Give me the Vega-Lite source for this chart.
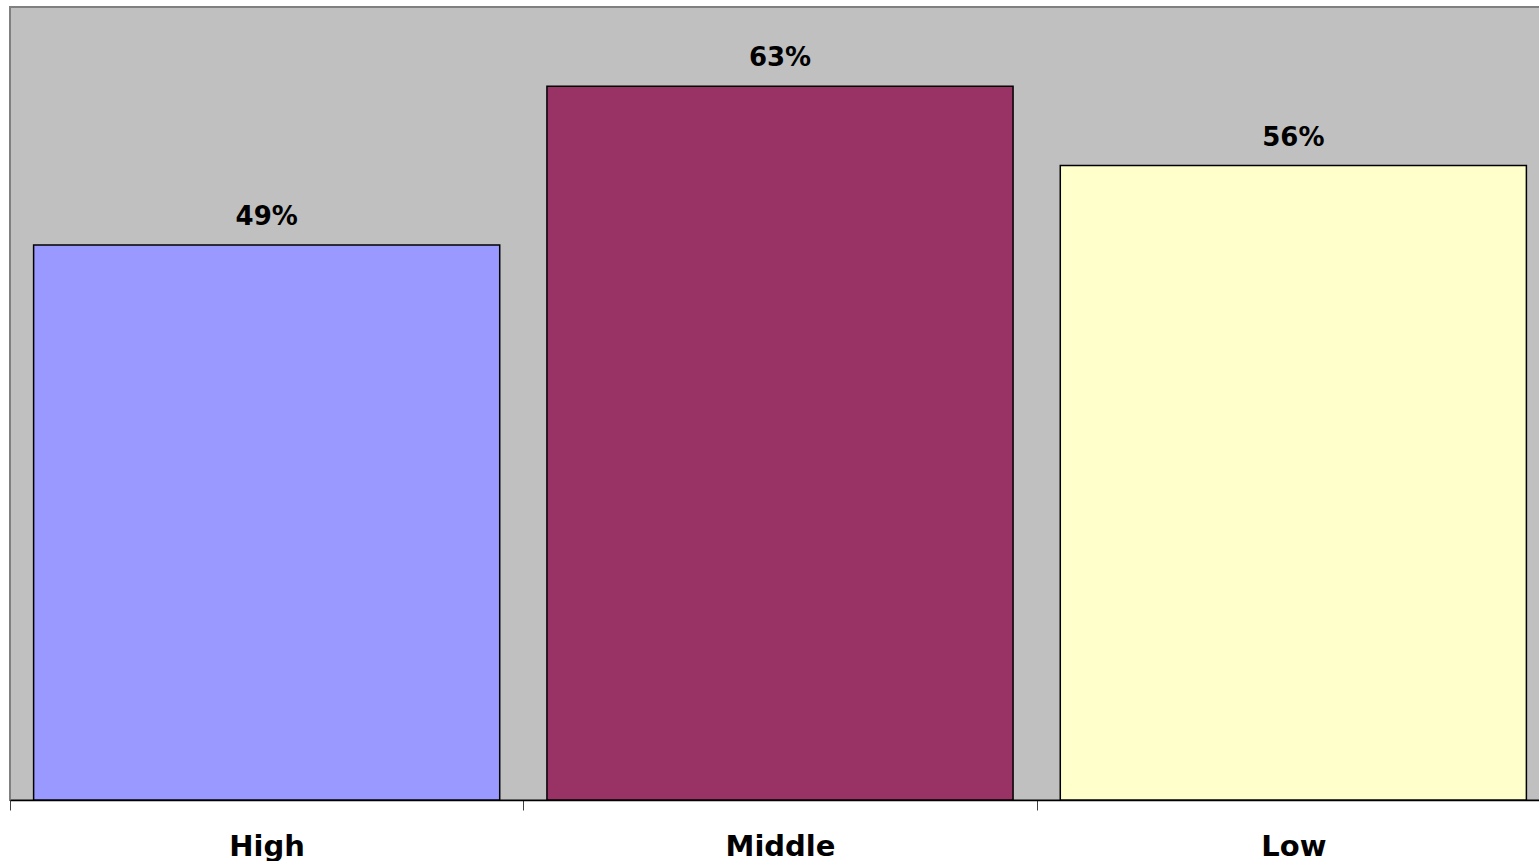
{
  "$schema": "https://vega.github.io/schema/vega-lite/v6.json",
  "width": 1540,
  "height": 793,
  "padding": {"left": 9, "top": 7, "right": 0, "bottom": 0},
  "background": "#ffffff",
  "config": {
    "view": {"fill": "#C0C0C0", "stroke": "#808080", "strokeWidth": 2},
    "font": "DejaVu Sans"
  },
  "data": {
    "values": [
      {"group": "High", "value": 0.49},
      {"group": "Middle", "value": 0.63},
      {"group": "Low", "value": 0.56}
    ]
  },
  "encoding": {
    "x": {
      "field": "group",
      "type": "nominal",
      "sort": null,
      "scale": {"paddingInner": 0, "paddingOuter": 0},
      "axis": {
        "title": null,
        "labelAngle": 0,
        "tickBand": "extent",
        "domainColor": "#000000",
        "domainWidth": 1.5,
        "tickColor": "#404040",
        "tickSize": 10,
        "tickWidth": 1,
        "labelFont": "DejaVu Sans",
        "labelFontWeight": "bold",
        "labelFontSize": 29,
        "labelColor": "#000000",
        "labelBaseline": "alphabetic",
        "labelPadding": 45
      }
    },
    "y": {
      "field": "value",
      "type": "quantitative",
      "scale": {"domain": [0, 0.7], "nice": false},
      "axis": null
    }
  },
  "layer": [
    {
      "mark": {"type": "bar", "width": {"band": 0.908}, "stroke": "#000000", "strokeWidth": 1.5},
      "encoding": {
        "color": {
          "field": "group",
          "type": "nominal",
          "scale": {"domain": ["High", "Middle", "Low"], "range": ["#9999FF", "#993366", "#FFFFCC"]},
          "legend": null
        }
      }
    },
    {
      "mark": {"type": "text", "baseline": "alphabetic", "dy": -20, "font": "DejaVu Sans", "fontWeight": "bold", "fontSize": 26, "color": "#000000"},
      "encoding": {
        "text": {"field": "value", "type": "quantitative", "format": ".0%"}
      }
    }
  ]
}
